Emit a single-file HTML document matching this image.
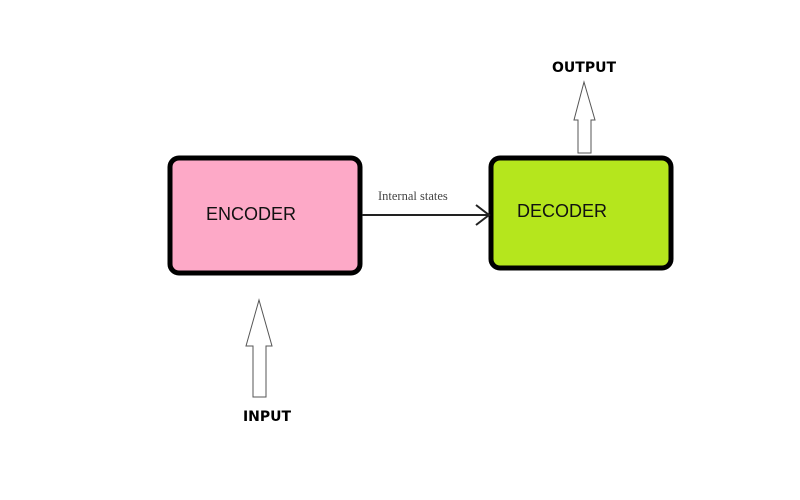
<!DOCTYPE html>
<html><head><style>
body{margin:0;background:#fff;}
svg{display:block}
</style></head><body>
<svg width="800" height="500" viewBox="0 0 800 500" xmlns="http://www.w3.org/2000/svg">
<rect x="0" y="0" width="800" height="500" fill="#fff"/>
<rect x="170" y="158" width="190" height="115" rx="9" fill="#fda9c7" stroke="#000" stroke-width="5"/>
<rect x="491" y="158" width="180" height="110" rx="9" fill="#b5e61d" stroke="#000" stroke-width="5"/>
<text x="206" y="220" font-family="Liberation Sans, sans-serif" font-size="18" fill="#111">ENCODER</text>
<text x="517" y="217" font-family="Liberation Sans, sans-serif" font-size="18" fill="#111">DECODER</text>
<line x1="362" y1="215" x2="488" y2="215" stroke="#222" stroke-width="2"/>
<polyline points="476,205 489,215 476,225" fill="none" stroke="#222" stroke-width="2"/>
<text x="378" y="200" font-family="Liberation Serif, serif" font-size="12.5" fill="#444">Internal states</text>
<polygon points="259,300 272,346 266,346 266,397 253,397 253,346 246,346" fill="#fff" stroke="#555" stroke-width="1"/>
<polygon points="584,82 595,120 591,120 591,153 578,153 578,120 574,120" fill="#fff" stroke="#555" stroke-width="1"/>
<text x="267" y="421" text-anchor="middle" font-family="DejaVu Sans, sans-serif" font-weight="bold" font-size="14" fill="#000">INPUT</text>
<text x="584" y="72" text-anchor="middle" font-family="DejaVu Sans, sans-serif" font-weight="bold" font-size="14" fill="#000">OUTPUT</text>
</svg>
</body></html>
